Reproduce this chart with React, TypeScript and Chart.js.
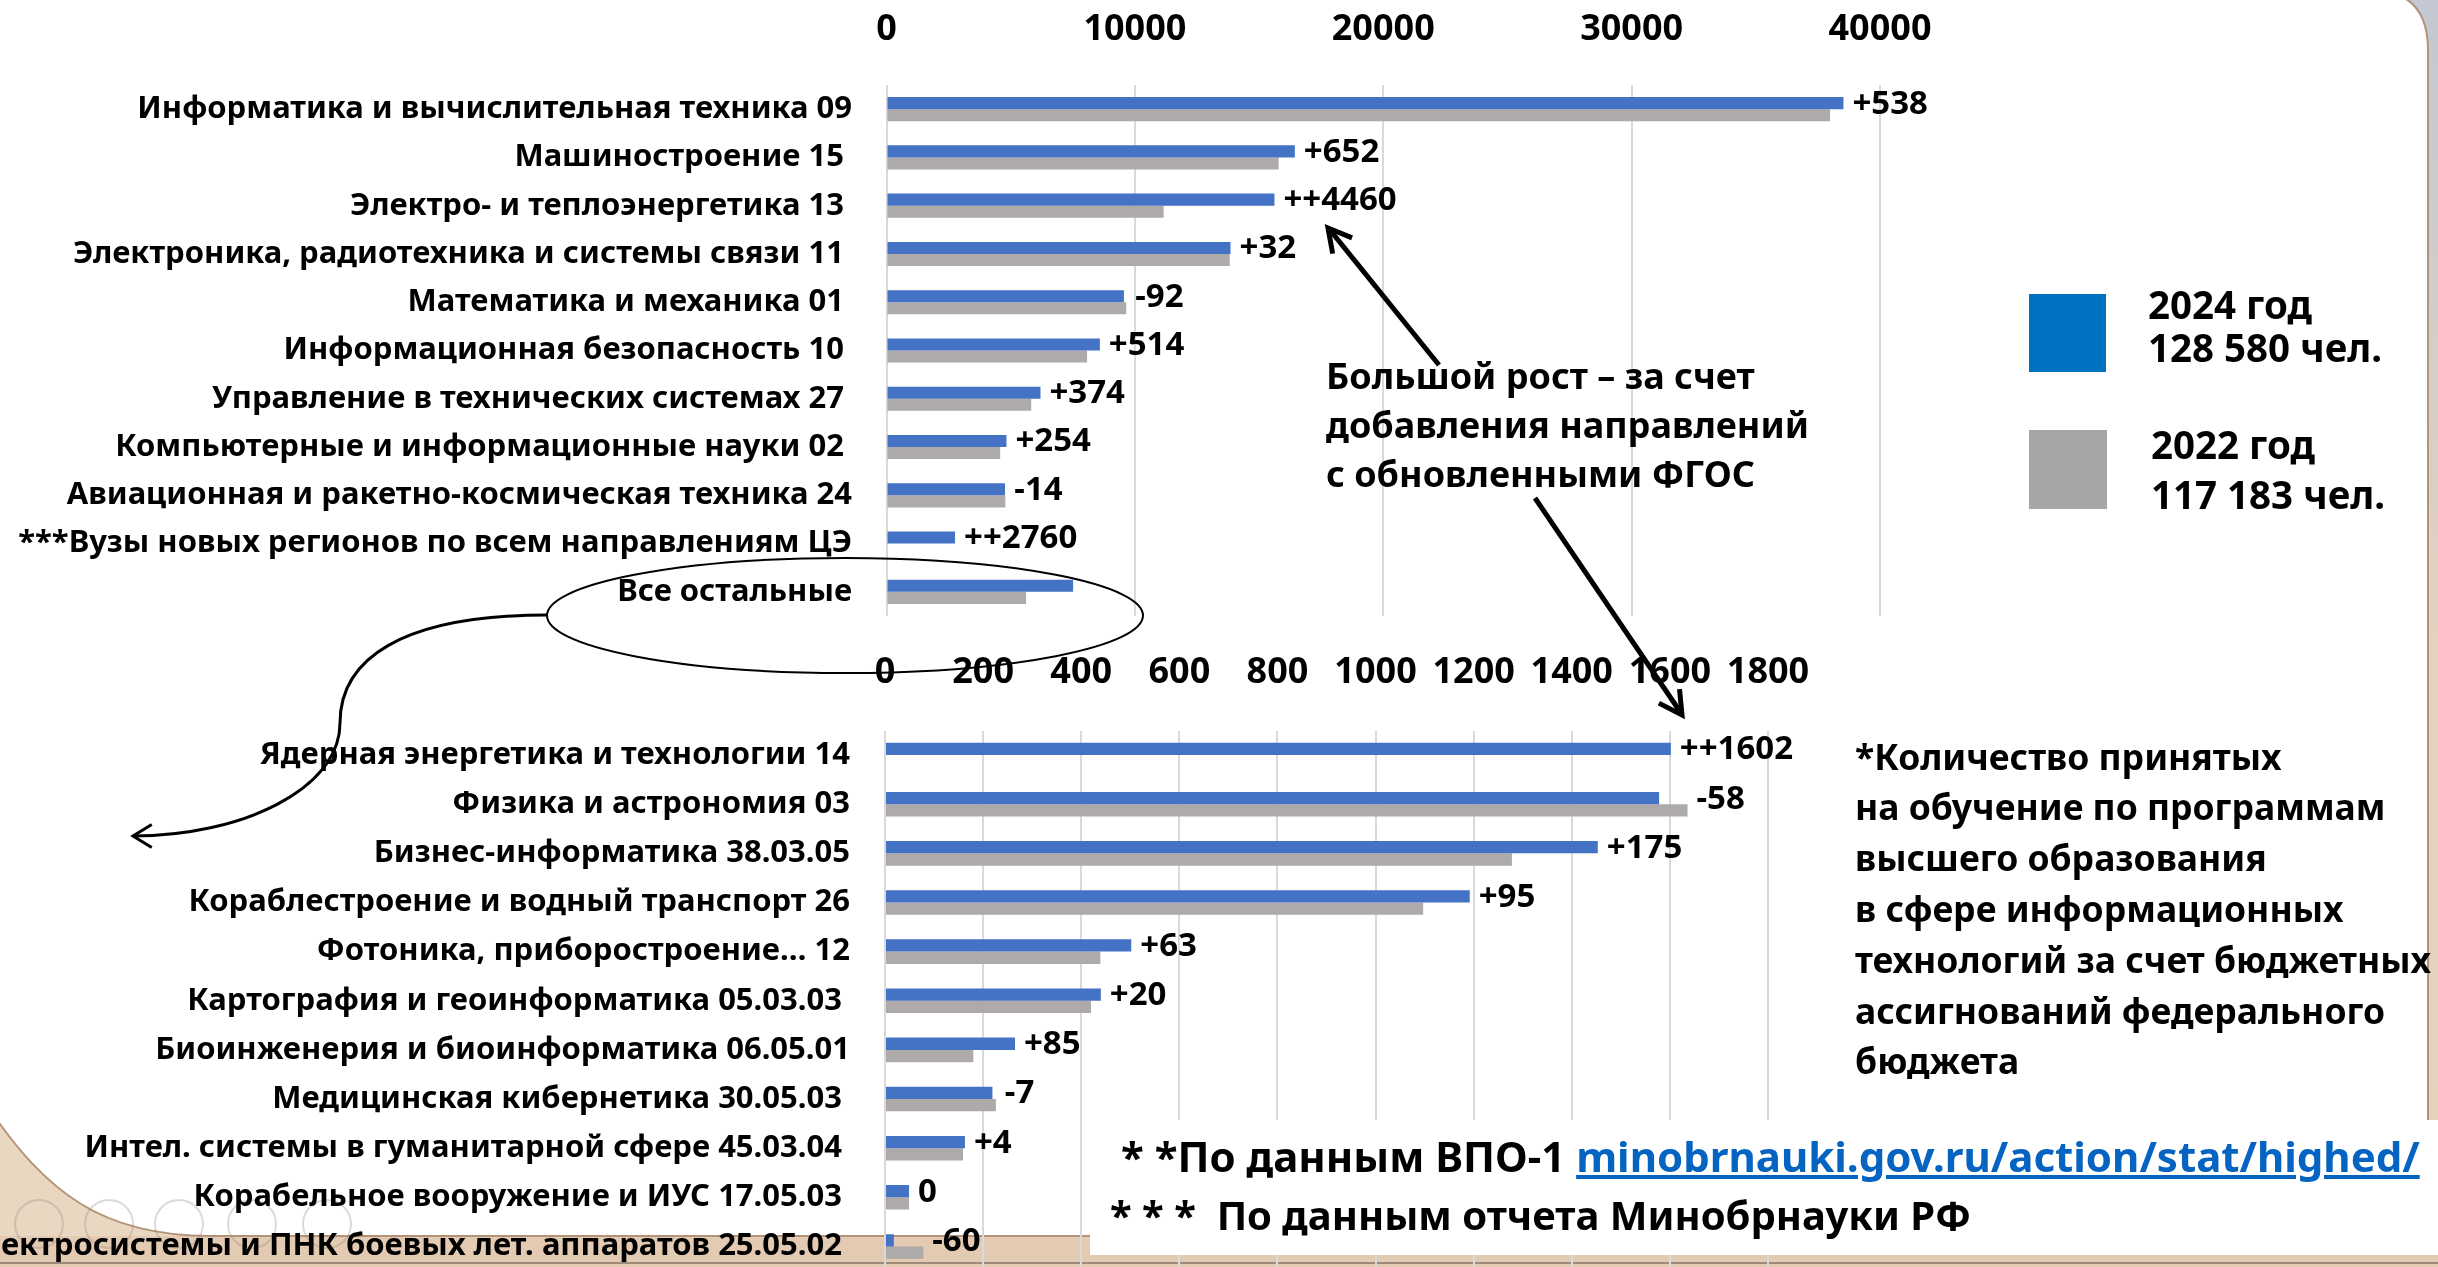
import React, { useEffect, useRef } from 'react';
import { Chart, registerables } from 'chart.js';

Chart.register(...registerables);

// ---------- DATA ----------
const topCategories = [
  'Информатика и вычислительная техника 09',
  'Машиностроение 15 ',
  'Электро- и теплоэнергетика 13 ',
  'Электроника, радиотехника и системы связи 11 ',
  'Математика и механика 01 ',
  'Информационная безопасность 10 ',
  'Управление в технических системах 27 ',
  'Компьютерные и информационные науки 02 ',
  'Авиационная и ракетно-космическая техника 24',
  '***Вузы новых регионов по всем направлениям ЦЭ',
  'Все остальные',
];
const top2024 = [38528, 16440, 15620, 13850, 9560, 8590, 6200, 4830, 4770, 2760, 7512];
const top2022 = [37990, 15788, 11160, 13818, 9652, 8076, 5826, 4576, 4784, 0, 5620];
const topDeltas = ['+538', '+652', '++4460', '+32', '-92', '+514', '+374', '+254', '-14', '++2760', ''];
const topTickMax = 40000;
const topTickStep = 10000;

const bottomCategories = [
  'Ядерная энергетика и технологии 14',
  'Физика и астрономия 03',
  'Бизнес-информатика 38.03.05',
  'Кораблестроение и водный транспорт 26',
  'Фотоника, приборостроение… 12',
  'Картография и геоинформатика 05.03.03 ',
  'Биоинженерия и биоинформатика 06.05.01',
  'Медицинская кибернетика 30.05.03 ',
  'Интел. системы в гуманитарной сфере 45.03.04 ',
  'Корабельное вооружение и ИУС 17.05.03 ',
  'Электросистемы и ПНК боевых лет. аппаратов 25.05.02 ',
];
const bottom2024 = [1602, 1578, 1453, 1192, 502, 440, 265, 219, 163, 49, 18];
const bottom2022 = [0, 1636, 1278, 1097, 439, 420, 180, 226, 159, 49, 78];
const bottomDeltas = ['++1602', '-58', '+175', '+95', '+63', '+20', '+85', '-7', '+4', '0', '-60'];
const bottomTickMax = 1800;
const bottomTickStep = 200;

const seriesNames = ['2024 год', '2022 год'];
const legendTotals = ['128 580 чел.', '117 183 чел.'];

const BLUE = '#4472C4';
const GREY = '#AEAAAA';
const FONT = '"Noto Sans", "Open Sans", sans-serif';

const deltaPlugin = {
  id: 'deltas',
  afterDatasetsDraw(chart: any, _args: any, opts: any) {
    const { ctx } = chart;
    const m0 = chart.getDatasetMeta(0);
    const m1 = chart.getDatasetMeta(1);
    ctx.save();
    ctx.font = `bold ${opts.size}px ${FONT}`;
    ctx.fillStyle = '#000';
    ctx.textBaseline = 'middle';
    ctx.textAlign = 'left';
    (opts.labels as string[]).forEach((t, i) => {
      if (!t) return;
      const e0 = m0.data[i];
      const e1 = m1.data[i];
      const x = Math.max(e0.x, e1.x) + opts.gap;
      const y = (e0.y + e1.y) / 2 - 5;
      ctx.fillText(t, x, y);
    });
    ctx.restore();
  },
};

function makeConfig(
  labels: string[],
  a: number[],
  b: number[],
  deltas: string[],
  max: number,
  step: number,
  axisWidth: number,
  axisHeight: number,
  padRight: number,
  yPad: number,
  xPad: number
): any {
  return {
    type: 'bar',
    data: {
      labels,
      datasets: [
        { label: seriesNames[0], data: a, backgroundColor: BLUE, borderWidth: 0 },
        { label: seriesNames[1], data: b, backgroundColor: GREY, borderWidth: 0 },
      ],
    },
    plugins: [deltaPlugin],
    options: {
      indexAxis: 'y',
      responsive: false,
      maintainAspectRatio: false,
      animation: false,
      layout: { padding: { left: 0, right: padRight, top: 0, bottom: 0 } },
      datasets: { bar: { categoryPercentage: 0.5, barPercentage: 1.0 } },
      plugins: {
        legend: { display: false },
        tooltip: { enabled: false },
        deltas: { labels: deltas, gap: 9, size: 33 },
      },
      scales: {
        x: {
          position: 'top',
          min: 0,
          max,
          afterFit: (s: any) => {
            s.height = axisHeight;
          },
          ticks: {
            stepSize: step,
            autoSkip: false,
            maxRotation: 0,
            padding: xPad,
            color: '#000',
            font: { family: FONT, size: 36, weight: 'bold' },
            callback: (v: any) => String(v),
          },
          grid: { color: '#D9D9D9', lineWidth: 2, drawTicks: false },
          border: { display: false },
        },
        y: {
          afterFit: (s: any) => {
            s.width = axisWidth;
            s.paddingTop = 0;
            s.paddingBottom = 0;
          },
          ticks: {
            autoSkip: false,
            padding: yPad,
            color: '#000',
            font: { family: FONT, size: 31, weight: 'bold' },
          },
          grid: { display: false, drawTicks: false },
          border: { display: false },
        },
      },
    },
  };
}

function chevron(tx: number, ty: number, fx: number, fy: number, len: number, ang: number) {
  const a = Math.atan2(fy - ty, fx - tx);
  const p1 = [tx + len * Math.cos(a + ang), ty + len * Math.sin(a + ang)];
  const p2 = [tx + len * Math.cos(a - ang), ty + len * Math.sin(a - ang)];
  return `M ${p1[0]} ${p1[1]} L ${tx} ${ty} L ${p2[0]} ${p2[1]}`;
}

export default function App() {
  const topRef = useRef<HTMLCanvasElement>(null);
  const botRef = useRef<HTMLCanvasElement>(null);

  useEffect(() => {
    document.body.style.margin = '0';
    document.body.style.overflow = 'hidden';
    const c1 = new Chart(
      topRef.current as HTMLCanvasElement,
      makeConfig(topCategories, top2024, top2022, topDeltas, topTickMax, topTickStep, 886.5, 85, 2438 - 1880, 34.5, 34)
    );
    const c2 = new Chart(
      botRef.current as HTMLCanvasElement,
      makeConfig(bottomCategories, bottom2024, bottom2022, bottomDeltas, bottomTickMax, bottomTickStep, 885, 110.5, 2438 - 1768, 35, 36)
    );
    return () => {
      c1.destroy();
      c2.destroy();
    };
  }, []);

  const textStyle: React.CSSProperties = {
    position: 'absolute',
    fontFamily: FONT,
    fontWeight: 700,
    color: '#000',
    whiteSpace: 'nowrap',
  };

  return (
    <div style={{ position: 'relative', width: 2438, height: 1267, overflow: 'hidden', background: '#EAD7C2' }}>
      <svg width={2438} height={1267} style={{ position: 'absolute', left: 0, top: 0 }}>
        <defs>
          <linearGradient id="rg" x1="0" y1="0" x2="0" y2="1">
            <stop offset="0" stopColor="#C3C8D2" />
            <stop offset="0.5" stopColor="#E3D2C0" />
            <stop offset="1" stopColor="#E6D2BC" />
          </linearGradient>
        </defs>
        <rect x={2400} y={0} width={38} height={1267} fill="url(#rg)" />
        <rect x={0} y={1236} width={2438} height={31} fill="#E2CBB2" />
        <line x1={0} y1={1263} x2={2438} y2={1263} stroke="#9D8A78" strokeWidth={2} />
        <path
          d="M -10 -10 H 2370 Q 2428 -10 2428 50 V 1236 H 210 C 100 1236 45 1190 -10 1110 Z"
          fill="#FFFFFF"
          stroke="#B39479"
          strokeWidth={2}
        />
        {[39, 109, 179, 252, 327].map((cx) => (
          <circle key={cx} cx={cx} cy={1224} r={24} fill="none" stroke="rgba(150,130,120,0.3)" strokeWidth={2} />
        ))}
      </svg>

      <canvas ref={topRef} width={2438} height={616} style={{ position: 'absolute', left: 0, top: 0 }} />
      <canvas ref={botRef} width={2438} height={651} style={{ position: 'absolute', left: 0, top: 620 }} />

      <svg width={2438} height={1267} style={{ position: 'absolute', left: 0, top: 0 }}>
        <ellipse cx={845} cy={615.5} rx={298} ry={57.5} fill="none" stroke="#000" strokeWidth={2} />
        <path d="M 547 615 C 400 615 340 660 340 723 C 340 790 240 836 133 836" fill="none" stroke="#000" strokeWidth={3} />
        <path d={chevron(133, 836, 160, 836, 22, 0.55)} fill="none" stroke="#000" strokeWidth={3} />
        <line x1={1439} y1={365} x2={1330} y2={230} stroke="#000" strokeWidth={5} />
        <path d={chevron(1328, 228, 1439, 365, 26, 0.5)} fill="none" stroke="#000" strokeWidth={5} />
        <line x1={1535} y1={498} x2={1681} y2={713} stroke="#000" strokeWidth={5} />
        <path d={chevron(1682, 715, 1535, 498, 26, 0.5)} fill="none" stroke="#000" strokeWidth={5} />
      </svg>

      {/* legend */}
      <div style={{ position: 'absolute', left: 2029, top: 294, width: 77, height: 78, background: '#0070C0' }} />
      <div style={{ position: 'absolute', left: 2029, top: 430, width: 78, height: 79, background: '#A6A6A6' }} />
      <div style={{ ...textStyle, left: 2148, top: 282.5, fontSize: 38.5, lineHeight: '43px' }}>
        {seriesNames[0]}
        <br />
        {legendTotals[0]}
      </div>
      <div style={{ ...textStyle, left: 2151, top: 419, fontSize: 38.5, lineHeight: '50px' }}>
        {seriesNames[1]}
        <br />
        {legendTotals[1]}
      </div>

      {/* annotation */}
      <div style={{ ...textStyle, left: 1326, top: 350.5, fontSize: 36, lineHeight: '49px' }}>
        Большой рост – за счет
        <br />
        добавления направлений
        <br />с обновленными ФГОС
      </div>

      {/* note block */}
      <div style={{ ...textStyle, left: 1855, top: 730.6, fontSize: 35.5, lineHeight: '50.8px' }}>
        *Количество принятых
        <br />
        на обучение по программам
        <br />
        высшего образования
        <br />в сфере информационных
        <br />
        технологий за счет бюджетных
        <br />
        ассигнований федерального
        <br />
        бюджета
      </div>

      {/* footnotes */}
      <div style={{ position: 'absolute', left: 1090, top: 1120, width: 1400, height: 135, background: '#FFFFFF' }} />
      <div style={{ ...textStyle, left: 1121, top: 1126, fontSize: 42, lineHeight: '60px' }}>
        * *По данным ВПО-1{' '}
        <span style={{ color: '#0563C1', textDecoration: 'underline' }}>minobrnauki.gov.ru/action/stat/highed/</span>
      </div>
      <div style={{ ...textStyle, left: 1110, top: 1185, fontSize: 40, lineHeight: '60px' }}>
        * * *&nbsp; По данным отчета Минобрнауки РФ
      </div>
    </div>
  );
}
